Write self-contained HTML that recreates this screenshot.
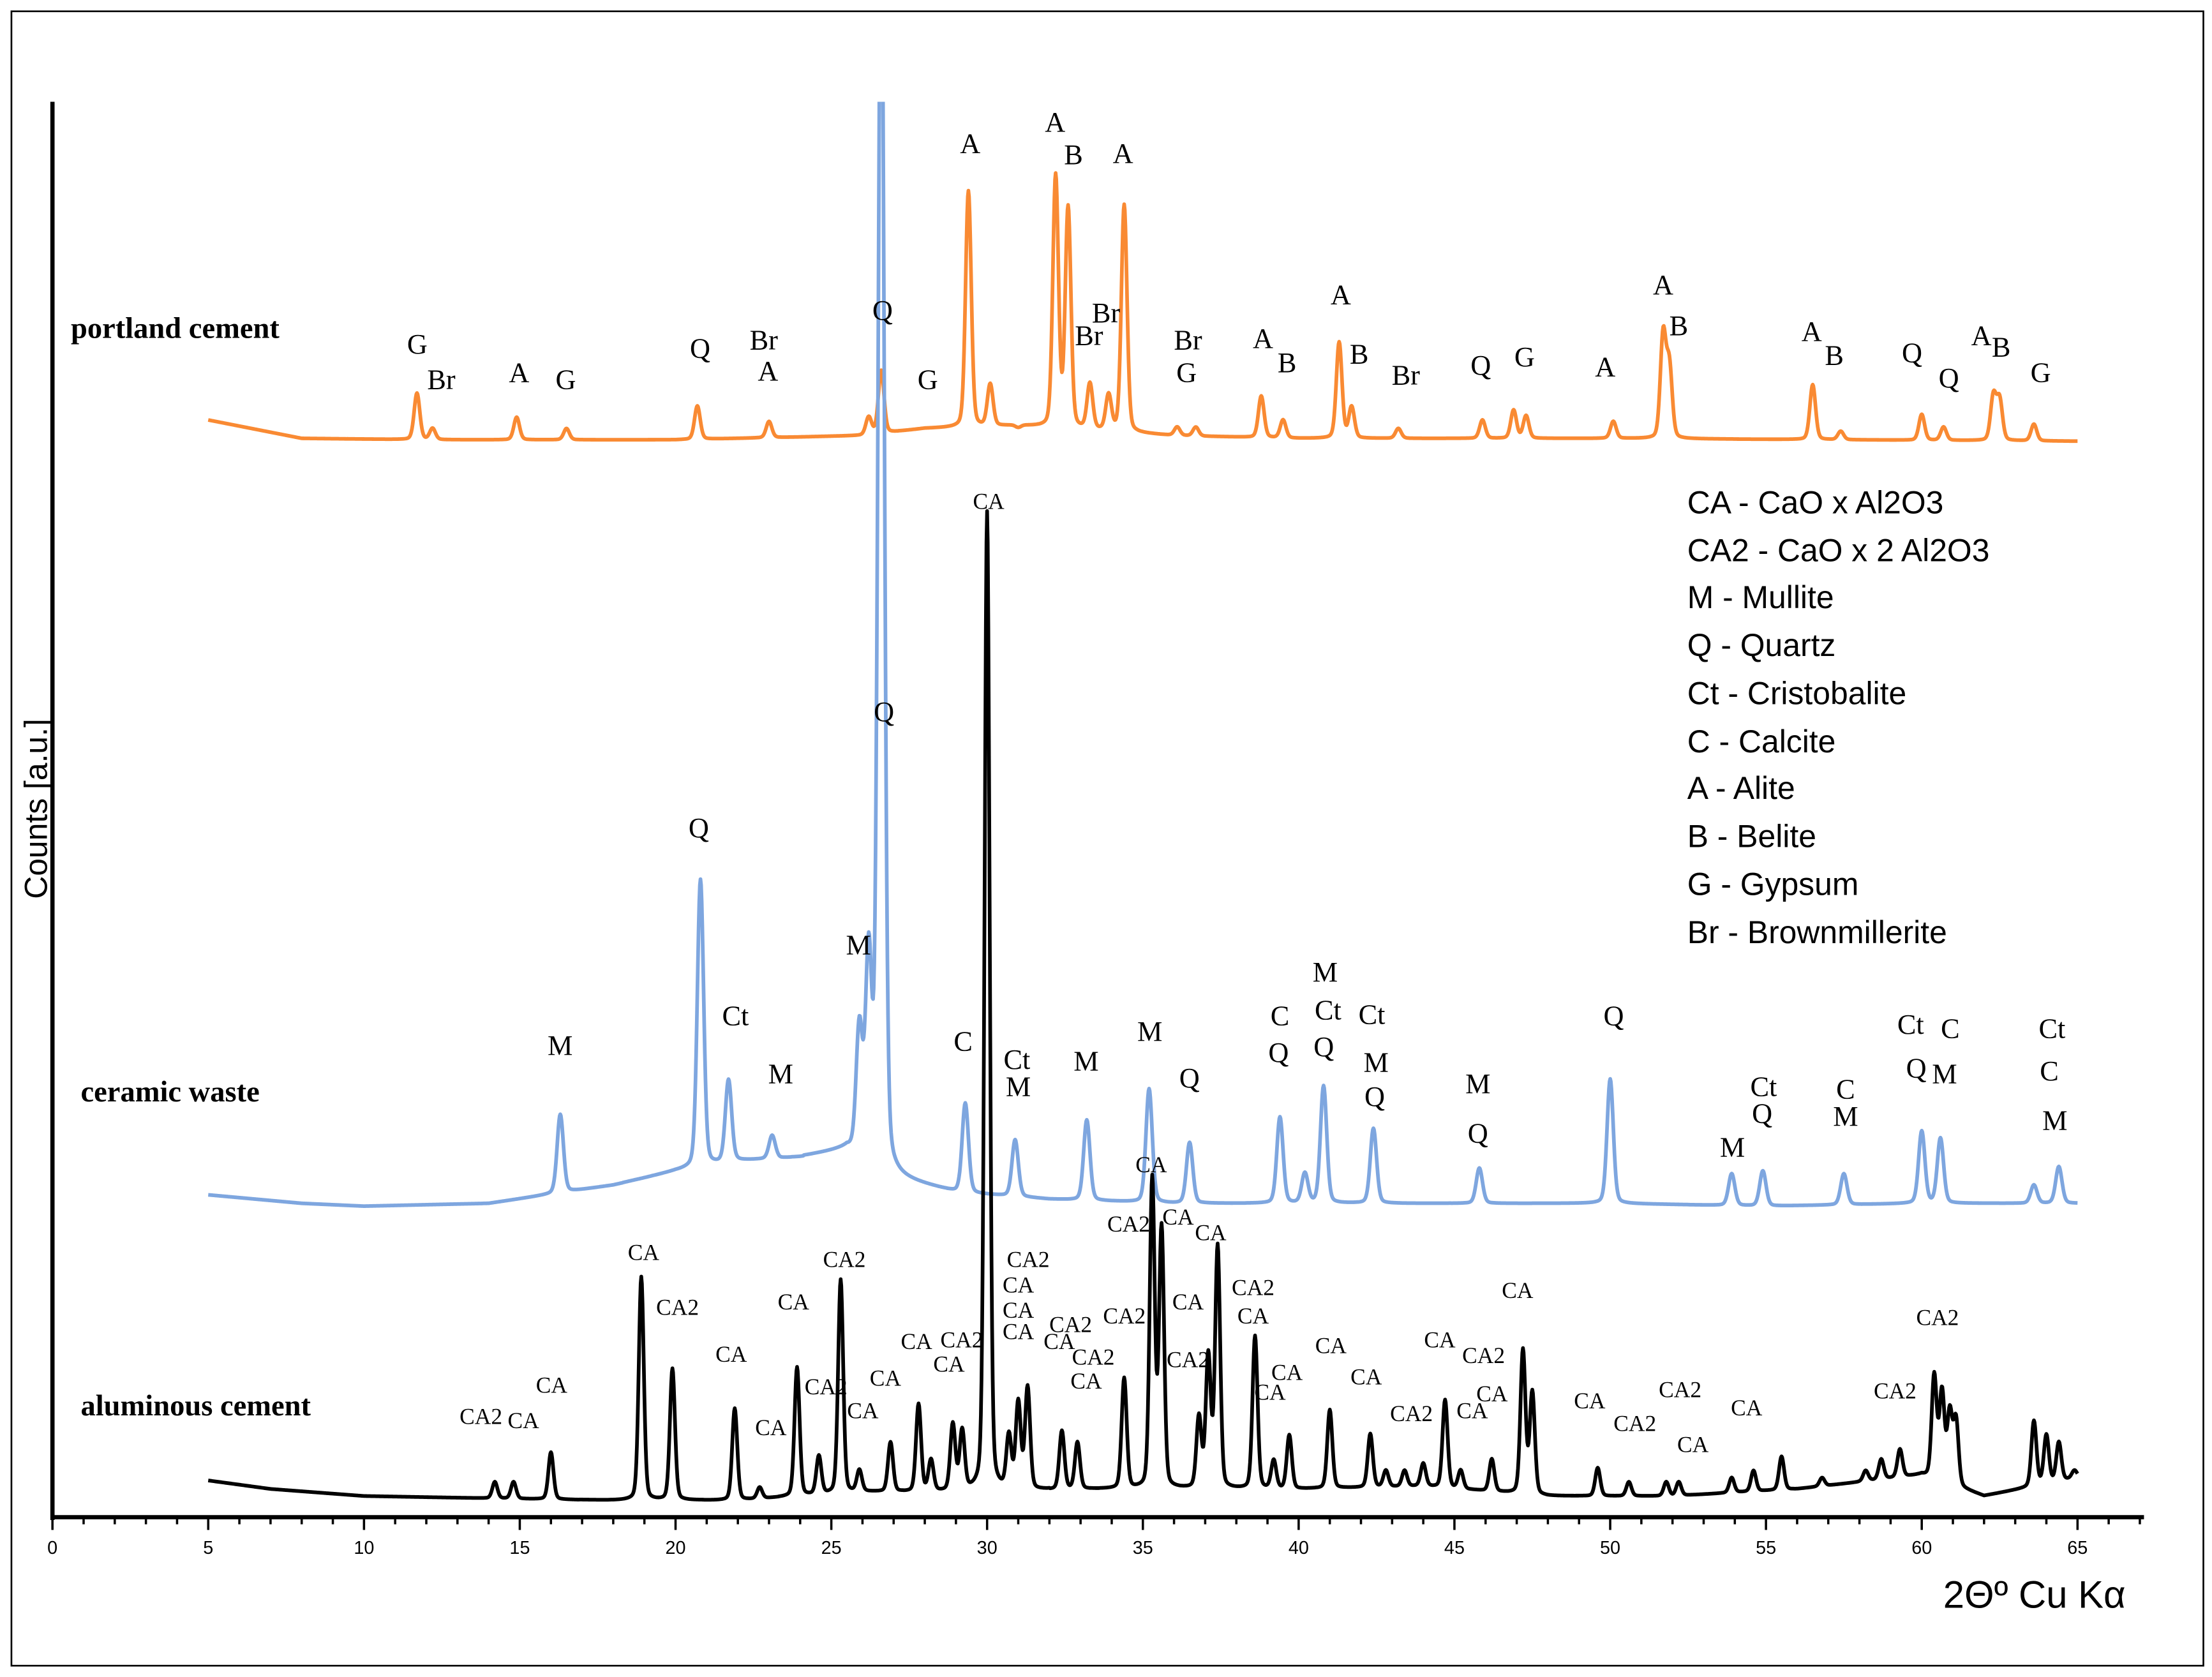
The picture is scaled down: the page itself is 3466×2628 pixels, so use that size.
<!DOCTYPE html>
<html><head><meta charset="utf-8"><style>
html,body{margin:0;padding:0;background:#fff}
svg{display:block}
.ser{font-family:"Liberation Serif",serif;font-weight:bold;font-size:21px}
.pl{font-family:"Liberation Serif",serif;font-size:20px}
.al{font-family:"Liberation Serif",serif;font-size:16px}
.tk{font-family:"Liberation Sans",sans-serif;font-size:13px}
.lg{font-family:"Liberation Sans",sans-serif;font-size:22.5px}
</style></head><body>
<svg id="chart" width="3466" height="2628" viewBox="0 0 1564 1186" xmlns="http://www.w3.org/2000/svg">
<rect x="8" y="8" width="1550" height="1170" fill="#fff" stroke="#000" stroke-width="1.2"/>
<defs><clipPath id="clip"><rect x="37" y="72" width="1480" height="1002"/></clipPath></defs>
<g id="axes"></g>
<g id="series" clip-path="url(#clip)"></g>
<g id="labels"></g>
<text class="lg" transform="translate(33,572) rotate(-90)" text-anchor="middle" font-size="23">Counts [a.u.]</text>
<text x="1374" y="1137" font-family="Liberation Sans, sans-serif" font-size="27">2Θº Cu Kα</text>
<text class="ser" x="50" y="239">portland cement</text>
<text class="ser" x="57" y="779">ceramic waste</text>
<text class="ser" x="57" y="1001">aluminous cement</text>
<g class="lg">
<text x="1193" y="363">CA - CaO x Al2O3</text>
<text x="1193" y="397">CA2 - CaO x 2 Al2O3</text>
<text x="1193" y="430">M - Mullite</text>
<text x="1193" y="464">Q - Quartz</text>
<text x="1193" y="498">Ct - Cristobalite</text>
<text x="1193" y="532">C - Calcite</text>
<text x="1193" y="565">A - Alite</text>
<text x="1193" y="599">B - Belite</text>
<text x="1193" y="633">G - Gypsum</text>
<text x="1193" y="667">Br - Brownmillerite</text>
</g>
</svg>
<script>
const xTicks=[0,5,10,15,20,25,30,35,40,45,50,55,60,65];
const alBaseX=[5,7,10,15,18,22,26,30,33,37,40,44,48,52,56,58,60,62,65];
const alBaseY=[26,20,15,13,12,12,18,18,20,20,20,22,15,15,20,25,30,15,28];
const alPos=[14.2,14.8,16.0,18.9,19.9,21.9,22.7,23.9,24.6,25.3,25.9,26.9,27.8,28.2,28.9,29.2,30.0,30.7,31.0,31.3,32.4,32.9,34.4,35.3,35.6,36.8,37.1,37.4,38.6,39.2,39.7,41.0,42.3,42.8,43.4,44.0,44.7,45.2,46.2,47.2,47.5,49.6,50.6,51.8,52.2,53.9,54.6,55.5,56.8,58.2,58.7,59.3,60.4,60.65,60.9,61.1,63.6,64.0,64.4,64.9];
const alTop=[25,25,46,170,105,77,21,106,43,168,33,53,80,40,65,60,711,56,80,91,61,53,98,238,203,70,113,191,128,40,58,76,59,33,33,38,83,33,41,118,88,35,25,25,25,28,33,43,28,33,41,48,100,88,73,68,68,58,53,33];
const ceBaseX=[5,8,10,14,18,20,22,24,25.5,27,29,32,36,40,45,50,55,60,65];
const ceBaseY=[228,222,220,222,235,245,252,255,260,240,230,225,222,222,222,222,220,222,222];
const cePos=[16.3,20.8,21.7,23.1,25.9,26.2,26.6,29.3,30.9,33.2,35.2,36.5,39.4,40.2,40.8,42.4,45.8,50.0,53.9,54.9,57.5,60.0,60.6,63.6,64.4];
const ceTop=[285,451,309,270,343,393,1150,293,267,281,303,265,283,243,305,275,247,310,243,245,243,273,268,235,248];
const pcBaseX=[5,8,12,20,26,28,31,34,36,40,50,65];
const pcBaseY=[776,763,762,762,765,770,772,768,765,763,763,761];
const pcPos=[11.7,12.2,14.9,16.5,20.7,23.0,26.2,26.6,29.4,30.1,31.0,32.2,32.6,33.3,33.9,34.4,36.1,36.7,38.8,39.5,41.3,41.7,43.2,45.9,46.9,47.3,50.1,51.7,51.9,56.5,57.4,60.0,60.7,62.3,62.5,63.6];
const pcTop=[795,770,778,770,786,775,778,811,938,801,770,948,925,801,793,928,771,771,793,776,831,785,770,776,783,779,775,836,813,801,768,780,771,793,790,773];

const NS="http://www.w3.org/2000/svg";
const X=v=>37+v*(1469-37)/65;
const Y=c=>1073-c;
function interp(xs,ys,x){if(x<=xs[0])return ys[0];for(let i=1;i<xs.length;i++){if(x<=xs[i]){const t=(x-xs[i-1])/(xs[i]-xs[i-1]);return ys[i-1]+t*(ys[i]-ys[i-1]);}}return ys[ys.length-1];}
function shape(d){return 0.8*Math.exp(-0.5*d*d)+0.2/(1+d*d*0.6);}
function curve(bx,by,pos,top,sig){
  let pts=[];
  for(let x=5;x<=65.001;x+=0.02){
    let c=interp(bx,by,x);
    for(let i=0;i<pos.length;i++){const h=top[i]-interp(bx,by,pos[i]);const d=(x-pos[i])/sig;if(Math.abs(d)<25)c+=h*shape(d);}
    pts.push(X(x).toFixed(2)+","+Y(c).toFixed(2));
  }
  return pts.join(" ");
}
const sg=document.getElementById('series');
function addSeries(name,color,bx,by,pos,top,sig){
  const p=document.createElementNS(NS,'polyline');
  
  
  p.setAttribute('points',curve(bx,by,pos,top,sig));
  p.setAttribute('fill','none');p.setAttribute('stroke',color);p.setAttribute('stroke-width','2.6');p.setAttribute('stroke-linejoin','round');
  sg.appendChild(p);
}
addSeries('portland-cement-line','#f98a33',pcBaseX,pcBaseY,pcPos,pcTop,0.09);
addSeries('ceramic-waste-line','#7ea6df',ceBaseX,ceBaseY,cePos,ceTop,0.1);
addSeries('aluminous-cement-line','#000',alBaseX,alBaseY,alPos,alTop,0.08);

const ax=document.getElementById('axes');
function ln(x1,y1,x2,y2,w,n){const l=document.createElementNS(NS,'line');


l.setAttribute('x1',x1);l.setAttribute('y1',y1);l.setAttribute('x2',x2);l.setAttribute('y2',y2);l.setAttribute('stroke','#000');l.setAttribute('stroke-width',w);ax.appendChild(l);}
ln(37,72,37,1075,3,'y-axis-line');
ln(36,1073,1516,1073,3,'x-axis-line');
for(let v=0;v<=67;v++){const major=v%5===0;ln(X(v),1073,X(v),major?1082:1078,1.6,major?'x-major-tick':'x-minor-tick');}
xTicks.forEach(v=>{const t=document.createElementNS(NS,'text');


t.setAttribute('x',X(v));t.setAttribute('y',1099);t.setAttribute('text-anchor','middle');t.setAttribute('class','tk');t.textContent=v;ax.appendChild(t);});

const pcLab=[["G",295,243],["Br",312,268],["A",367,263],["G",400,268],["Q",495,246],["Br",540,240],["A",543,262],["Q",624,219],["G",656,268],["A",686,101],["A",746,86],["B",759,109],["A",794,108],["Br",782,221],["Br",770,237],["Br",840,240],["G",839,263],["A",893,239],["B",910,256],["A",948,208],["B",961,250],["Br",994,265],["Q",1047,258],["G",1078,252],["A",1135,259],["A",1176,201],["B",1187,230],["A",1281,234],["B",1297,251],["Q",1352,249],["Q",1378,267],["A",1401,237],["B",1415,245],["G",1443,263]];
const ceLab=[["Q",625,503],["Q",494,585],["M",607,668],["Ct",520,718],["M",396,739],["M",552,759],["C",681,736],["Ct",719,749],["M",720,768],["M",768,750],["M",813,729],["Q",841,762],["C",905,718],["Q",904,744],["M",937,687],["Ct",939,714],["Q",936,740],["Ct",970,717],["M",973,751],["Q",972,775],["M",1045,766],["Q",1045,801],["Q",1141,718],["Ct",1247,768],["Q",1246,787],["M",1225,811],["C",1305,770],["M",1305,789],["Ct",1351,724],["C",1379,727],["Q",1355,755],["M",1375,759],["Ct",1451,727],["C",1449,757],["M",1453,792]];
const alLab=[["CA",699,354],["CA",455,885],["CA2",479,924],["CA",517,957],["CA",561,920],["CA2",597,890],["CA",390,979],["CA2",340,1001],["CA",370,1004],["CA",545,1009],["CA2",584,980],["CA",626,974],["CA",610,997],["CA",648,948],["CA2",680,947],["CA",671,964],["CA2",727,890],["CA",720,908],["CA",720,926],["CA",720,941],["CA2",757,936],["CA",749,948],["CA2",773,959],["CA",768,976],["CA2",795,930],["CA",814,823],["CA2",798,865],["CA",833,860],["CA",856,871],["CA",840,920],["CA2",886,910],["CA",886,930],["CA2",840,961],["CA",910,970],["CA",898,984],["CA",941,951],["CA",966,973],["CA2",998,999],["CA",1018,947],["CA2",1049,958],["CA",1055,985],["CA",1041,997],["CA",1073,912],["CA",1124,990],["CA2",1156,1006],["CA2",1188,982],["CA",1197,1021],["CA",1235,995],["CA2",1340,983],["CA2",1370,931]];
const lg=document.getElementById('labels');
function lab(arr,cls,dy,name){arr.forEach(a=>{const t=document.createElementNS(NS,'text');


t.setAttribute('x',a[1]);t.setAttribute('y',a[2]+dy);t.setAttribute('text-anchor','middle');t.setAttribute('class',cls);t.textContent=a[0];lg.appendChild(t);});}
lab(pcLab,'pl',7,'portland-peak-label');
lab(ceLab,'pl',7,'ceramic-peak-label');
lab(alLab,'al',6,'aluminous-peak-label');
</script>
</body></html>
